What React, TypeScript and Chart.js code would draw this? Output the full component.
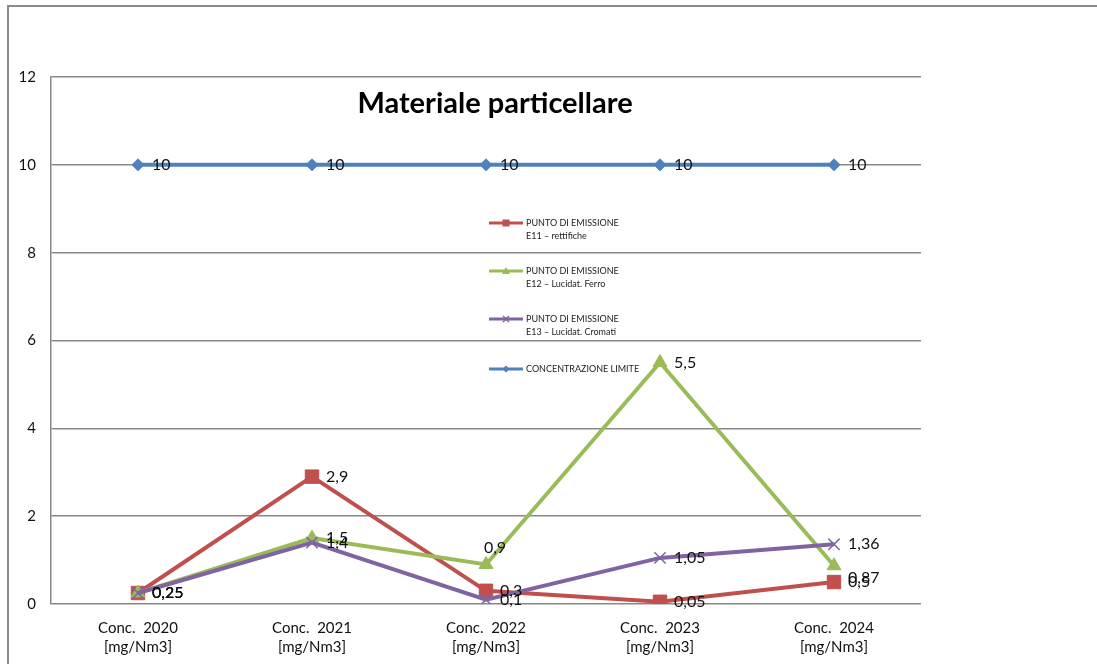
import React, { useEffect, useRef } from "react";
import { Chart, registerables } from "chart.js";

Chart.register(...registerables);

const categories: string[][] = [
  ["Conc.  2020", "[mg/Nm3]"],
  ["Conc.  2021", "[mg/Nm3]"],
  ["Conc.  2022", "[mg/Nm3]"],
  ["Conc.  2023", "[mg/Nm3]"],
  ["Conc.  2024", "[mg/Nm3]"],
];
const e11Values = [0.25, 2.9, 0.3, 0.05, 0.5];
const e12Values = [0.25, 1.5, 0.9, 5.5, 0.87];
const e13Values = [0.25, 1.4, 0.1, 1.05, 1.36];
const limitValues = [10, 10, 10, 10, 10];
const legendLabels: string[][] = [
  ["PUNTO DI EMISSIONE", "E11 \u2013 rettifiche"],
  ["PUNTO DI EMISSIONE", "E12 \u2013 Lucidat. Ferro"],
  ["PUNTO DI EMISSIONE", "E13 \u2013 Lucidat. Cromati"],
  ["CONCENTRAZIONE LIMITE"],
];
const titleText = "Materiale particellare";

const FONT = "Lato, 'Open Sans', sans-serif";

const fmt = (v: number) => String(v).replace(".", ",");

const overlayPlugin = {
  id: "overlay",
  afterDatasetsDraw(chart: any) {
    const ctx = chart.ctx as CanvasRenderingContext2D;
    ctx.save();
    // data labels
    ctx.font = `16px ${FONT}`;
    ctx.fillStyle = "#111";
    ctx.textBaseline = "middle";
    chart.data.datasets.forEach((ds: any, di: number) => {
      const meta = chart.getDatasetMeta(di);
      meta.data.forEach((pt: any, i: number) => {
        const v = ds.data[i];
        const txt = fmt(v);
        const above = ds.labelAbove && ds.labelAbove.includes(i);
        if (above) {
          ctx.textAlign = "center";
          ctx.fillText(txt, pt.x + 9, pt.y - 17);
        } else {
          ctx.textAlign = "left";
          ctx.fillText(txt, pt.x + 14, pt.y + (ds.labelDy ? ds.labelDy[i] || 0 : 0));
        }
      });
    });
    // title
    ctx.font = `bold 29px ${FONT}`;
    ctx.textAlign = "center";
    ctx.fillStyle = "#000";
    ctx.fillText(titleText, 495, 104);
    // legend
    const ys = [223, 271, 319, 369];
    [0, 1, 2, 3].forEach((di, k) => {
      const ds = chart.data.datasets[di];
      const y = ys[k];
      ctx.strokeStyle = ds.borderColor;
      ctx.lineWidth = 3;
      ctx.beginPath();
      ctx.moveTo(489, y);
      ctx.lineTo(523, y);
      ctx.stroke();
      const mx = 506;
      ctx.fillStyle = ds.borderColor;
      ctx.strokeStyle = ds.borderColor;
      ctx.lineWidth = 1.5;
      if (ds.pointStyle === "rect") {
        ctx.fillRect(mx - 3.5, y - 3.5, 7, 7);
      } else if (ds.pointStyle === "triangle") {
        ctx.beginPath();
        ctx.moveTo(mx, y - 4);
        ctx.lineTo(mx + 4, y + 3);
        ctx.lineTo(mx - 4, y + 3);
        ctx.closePath();
        ctx.fill();
      } else if (ds.pointStyle === "crossRot") {
        ctx.beginPath();
        ctx.moveTo(mx - 3, y - 3);
        ctx.lineTo(mx + 3, y + 3);
        ctx.moveTo(mx + 3, y - 3);
        ctx.lineTo(mx - 3, y + 3);
        ctx.stroke();
      } else {
        ctx.beginPath();
        ctx.moveTo(mx, y - 3.5);
        ctx.lineTo(mx + 3.5, y);
        ctx.lineTo(mx, y + 3.5);
        ctx.lineTo(mx - 3.5, y);
        ctx.closePath();
        ctx.fill();
      }
      ctx.fillStyle = "#222";
      ctx.font = `9px ${FONT}`;
      ctx.textAlign = "left";
      ctx.textBaseline = "middle";
      legendLabels[k].forEach((line, li) => {
        ctx.fillText(line, 526, y + li * 13);
      });
    });
    ctx.restore();
  },
};

export default function App() {
  const canvasRef = useRef<HTMLCanvasElement | null>(null);

  useEffect(() => {
    if (!canvasRef.current) return;
    const chart = new Chart(canvasRef.current, {
      type: "line",
      data: {
        labels: categories,
        datasets: [
          {
            label: legendLabels[0].join(" "),
            data: e11Values,
            borderColor: "#C0504D",
            backgroundColor: "#C0504D",
            borderWidth: 4,
            pointStyle: "rect",
            pointRadius: 9.5,
            pointBorderWidth: 1,
            order: 4,
            labelDy: [0, 0, 0, 0, 0],
          } as any,
          {
            label: legendLabels[1].join(" "),
            data: e12Values,
            borderColor: "#9BBB59",
            backgroundColor: "#9BBB59",
            borderWidth: 4,
            pointStyle: "triangle",
            pointRadius: 8,
            pointBorderWidth: 1,
            order: 3,
            labelAbove: [2],
            labelDy: [0, 0, 0, 0, 12],
          } as any,
          {
            label: legendLabels[2].join(" "),
            data: e13Values,
            borderColor: "#8064A2",
            backgroundColor: "#8064A2",
            borderWidth: 4,
            pointStyle: "crossRot",
            pointRadius: 8,
            pointBorderWidth: 1.5,
            order: 2,
          } as any,
          {
            label: legendLabels[3][0],
            data: limitValues,
            borderColor: "#4F81BD",
            backgroundColor: "#4F81BD",
            borderWidth: 4,
            pointStyle: "rectRot",
            pointRadius: 6,
            pointBorderWidth: 1,
            order: 1,
          } as any,
        ],
      },
      options: {
        responsive: false,
        animation: false,
        events: [],
        layout: { padding: { top: 77, right: 176, left: 0, bottom: 0 } },
        plugins: {
          legend: { display: false },
          title: { display: false },
          tooltip: { enabled: false },
        },
        scales: {
          x: {
            offset: true,
            grid: { display: false, drawTicks: false },
            border: { display: false },
            ticks: {
              color: "#111",
              font: { family: FONT, size: 15, lineHeight: 1.3 },
              padding: 14,
              maxRotation: 0,
              autoSkip: false,
            },
            afterFit: (scale: any) => {
              scale.height = 60;
            },
          },
          y: {
            min: 0,
            max: 12,
            grid: { color: "#888888", lineWidth: 1.5, drawTicks: false },
            border: { display: true, color: "#888888", width: 1.5 },
            ticks: {
              stepSize: 2,
              color: "#111",
              font: { family: FONT, size: 15 },
              padding: 15,
            },
            afterFit: (scale: any) => {
              scale.width = 51;
            },
          },
        },
      },
      plugins: [overlayPlugin],
    });
    return () => chart.destroy();
  }, []);

  return (
    <div
      style={{
        position: "fixed",
        left: 0,
        top: 0,
        width: 1097,
        height: 664,
        overflow: "hidden",
        background: "#fff",
      }}
    >
      <div
        style={{
          position: "absolute",
          left: 7,
          top: 5,
          width: 1200,
          height: 800,
          border: "2px solid #8a8a8a",
        }}
      />
      <canvas
        ref={canvasRef}
        width={1097}
        height={664}
        style={{ position: "absolute", left: 0, top: 0, display: "block" }}
      />
    </div>
  );
}
